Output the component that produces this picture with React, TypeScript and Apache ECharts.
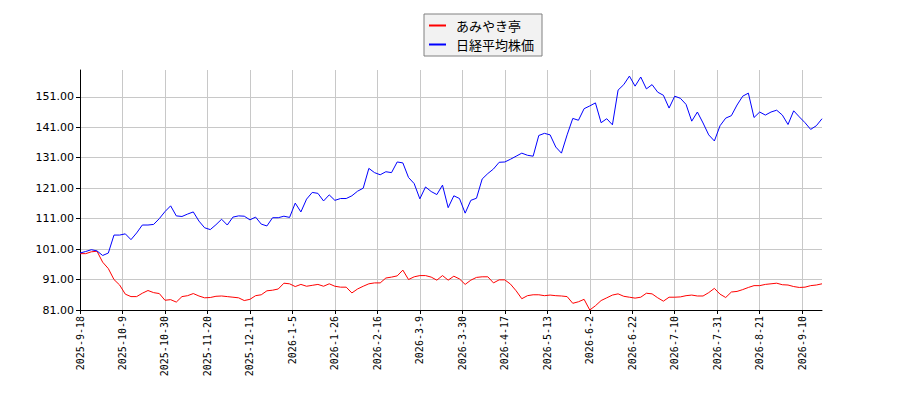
import React, { useEffect, useRef } from 'react';
import * as echarts from 'echarts';

// date labels, one every 15 trading days
const tickLabels = [
  '2025-9-18', '2025-10-9', '2025-10-30', '2025-11-20', '2025-12-11',
  '2026-1-5', '2026-1-26', '2026-2-16', '2026-3-9', '2026-3-30',
  '2026-4-17', '2026-5-13', '2026-6-2', '2026-6-22', '2026-7-10',
  '2026-7-31', '2026-8-21', '2026-9-10',
];
const TICK_EVERY = 15;
// one value every 2 trading days (indexed, start = 100)
const SAMPLE_EVERY = 2;

const seriesNames = ['あみやき亭', '日経平均株価'];

const amiyakiValues = [
  99.5, 99.5, 100.1, 100.3, 96.7, 94.6, 91.0, 89.2, 86.2, 85.4,
  85.4, 86.5, 87.4, 86.7, 86.4, 84.2, 84.4, 83.6, 85.4, 85.7,
  86.4, 85.6, 85.0, 85.1, 85.5, 85.6, 85.4, 85.2, 85.0, 84.1,
  84.5, 85.7, 86.0, 87.3, 87.5, 87.9, 89.8, 89.6, 88.7, 89.4,
  88.8, 89.1, 89.4, 88.8, 89.6, 88.8, 88.5, 88.5, 86.6, 87.9,
  88.8, 89.6, 89.9, 89.9, 91.5, 91.8, 92.2, 94.1, 91.0, 91.9,
  92.3, 92.3, 91.8, 90.8, 92.3, 90.8, 92.1, 91.2, 89.4, 90.8,
  91.7, 91.9, 91.9, 89.9, 90.9, 90.9, 89.5, 87.3, 84.7, 85.7,
  86.0, 86.0, 85.7, 85.9, 85.7, 85.6, 85.4, 83.2, 83.7, 84.5,
  81.0, 82.4, 84.1, 85.0, 85.9, 86.3, 85.5, 85.2, 84.9, 85.2,
  86.5, 86.3, 85.0, 83.9, 85.2, 85.2, 85.3, 85.7, 85.9, 85.6,
  85.6, 86.7, 88.1, 86.2, 85.1, 86.9, 87.1, 87.7, 88.4, 89.0,
  89.0, 89.4, 89.6, 89.8, 89.3, 89.2, 88.7, 88.4, 88.5, 89.0,
  89.2, 89.6,
];

const nikkeiValues = [
  99.7, 100.2, 100.8, 100.4, 98.9, 99.7, 105.6, 105.6, 106.0, 104.1,
  106.3, 108.9, 108.9, 109.1, 111.0, 113.3, 115.2, 111.9, 111.7, 112.5,
  113.2, 110.2, 108.0, 107.4, 109.0, 110.8, 108.9, 111.5, 111.9, 111.8,
  110.6, 111.5, 109.2, 108.6, 111.3, 111.3, 111.8, 111.4, 116.1, 113.2,
  117.4, 119.6, 119.3, 116.8, 118.8, 117.0, 117.6, 117.6, 118.5, 120.0,
  121.0, 127.5, 126.1, 125.4, 126.4, 126.1, 129.6, 129.3, 124.5, 122.5,
  117.5, 121.4, 119.9, 118.9, 122.0, 114.6, 118.5, 117.6, 112.8, 117.0,
  117.7, 124.0, 125.8, 127.3, 129.5, 129.6, 130.5, 131.5, 132.5, 131.8,
  131.5, 138.3, 139.0, 138.5, 134.5, 132.5, 138.5, 143.9, 143.3, 147.1,
  148.0, 149.0, 142.5, 143.8, 141.8, 153.2, 155.0, 157.8, 154.5, 157.5,
  153.6, 155.0, 152.5, 151.5, 147.3, 151.2, 150.5, 148.5, 143.0, 146.0,
  142.4, 138.5, 136.5, 141.5, 144.0, 144.8, 148.3, 151.2, 152.2, 144.2,
  146.0, 145.0, 146.0, 146.6, 145.0, 141.9, 146.4, 144.4, 142.5, 140.3,
  141.5, 143.8,
];

const Y_MIN = 81;
const Y_MAX = 159.8;
const Y_STEP = 10;

const toPoints = (values: number[]) => values.map((v, i) => [i * SAMPLE_EVERY, v]);

export default function App() {
  const chartRef = useRef<HTMLDivElement>(null);

  useEffect(() => {
    if (!chartRef.current) return;
    const chart = echarts.init(chartRef.current, undefined, { renderer: 'svg' });
    const lastIndex = (nikkeiValues.length - 1) * SAMPLE_EVERY;

    const option: echarts.EChartsOption = {
      animation: false,
      backgroundColor: '#fff',
      grid: { left: 80, right: 78, top: 70, bottom: 90 },
      legend: {
        orient: 'vertical',
        left: 424,
        top: 14,
        padding: [4, 8, 4, 5],
        itemGap: 4,
        itemWidth: 17,
        itemHeight: 2,
        icon: 'rect',
        backgroundColor: '#f2f2f2',
        borderColor: '#808080',
        borderWidth: 1,
        textStyle: {
          fontFamily: 'Noto Sans CJK JP',
          fontSize: 13,
          lineHeight: 15,
          color: '#000',
          padding: [0, 0, 0, 5],
        },
        data: seriesNames,
      },
      xAxis: {
        type: 'value',
        min: 0,
        max: lastIndex,
        interval: TICK_EVERY,
        axisLine: { lineStyle: { color: '#000', width: 1 } },
        axisTick: { length: 4, lineStyle: { color: '#000' } },
        splitLine: { show: true, showMaxLine: false, lineStyle: { color: '#c8c8c8', width: 1 } },
        axisLabel: {
          rotate: 90,
          showMaxLabel: false,
          margin: 6,
          fontFamily: 'DejaVu Sans Mono',
          fontSize: 10,
          color: '#000',
          formatter: (v: number) => tickLabels[Math.round(v / TICK_EVERY)] ?? '',
        },
      },
      yAxis: {
        type: 'value',
        min: Y_MIN,
        max: Y_MAX,
        interval: Y_STEP,
        axisLine: { show: true, lineStyle: { color: '#000', width: 1 } },
        axisTick: { show: true, length: 4, lineStyle: { color: '#000' } },
        splitLine: { show: true, showMaxLine: false, lineStyle: { color: '#c8c8c8', width: 1 } },
        axisLabel: {
          showMaxLabel: false,
          margin: 6,
          fontFamily: 'DejaVu Sans',
          fontSize: 11,
          color: '#000',
          formatter: (v: number) => v.toFixed(2),
        },
      },
      series: [
        {
          name: seriesNames[0],
          type: 'line',
          data: toPoints(amiyakiValues),
          symbol: 'none',
          lineStyle: { color: '#ff0000', width: 1 },
          itemStyle: { color: '#ff0000' },
        },
        {
          name: seriesNames[1],
          type: 'line',
          data: toPoints(nikkeiValues),
          symbol: 'none',
          lineStyle: { color: '#0000ff', width: 1 },
          itemStyle: { color: '#0000ff' },
        },
      ],
    };

    chart.setOption(option);
    return () => chart.dispose();
  }, []);

  return (
    <div
      ref={chartRef}
      style={{ position: 'fixed', left: 0, top: 0, width: 900, height: 400 }}
    />
  );
}
